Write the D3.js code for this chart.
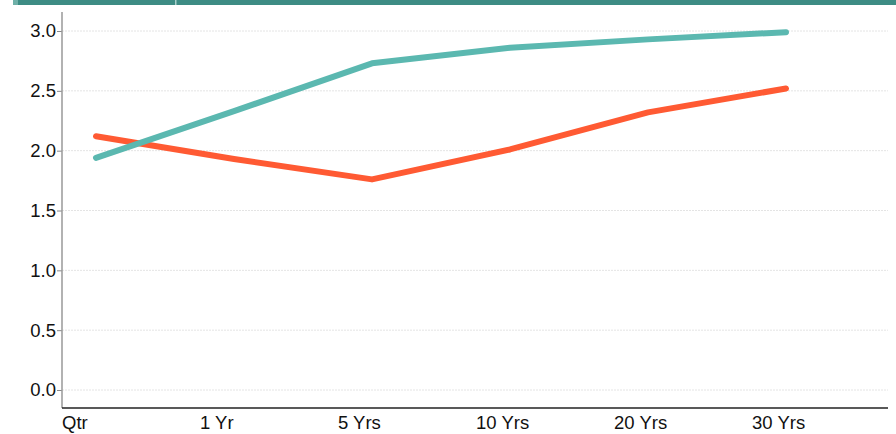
<!DOCTYPE html>
<html>
<head>
<meta charset="utf-8">
<script src="https://cdn.jsdelivr.net/npm/d3@7"></script>
<style>
  html, body { margin: 0; padding: 0; background: #fff; }
  svg text { font-family: "Liberation Sans", Arial, sans-serif; font-size: 18.5px; fill: #111; }
</style>
</head>
<body>
<div id="chart"></div>
<script>
const categories = ["Qtr", "1 Yr", "5 Yrs", "10 Yrs", "20 Yrs", "30 Yrs"];
const tealValues = [1.94, 2.33, 2.73, 2.86, 2.93, 2.99];
const orangeValues = [2.12, 1.93, 1.76, 2.01, 2.32, 2.52];
const yTicks = [0, 0.5, 1, 1.5, 2, 2.5, 3];

const width = 896, height = 434;
const svg = d3.select("#chart").append("svg")
  .attr("width", width).attr("height", height);

// top band
svg.append("rect").attr("x", 13).attr("y", 0).attr("width", width - 13).attr("height", 5)
  .attr("fill", "#3d8c84");
svg.append("rect").attr("x", 13).attr("y", 0).attr("width", 5).attr("height", 5)
  .attr("fill", "#6fb0a8");
svg.append("rect").attr("x", 175).attr("y", 0).attr("width", 1.5).attr("height", 5)
  .attr("fill", "#a9d0cb");

const x = d3.scalePoint().domain(categories).range([96, 786]);
const y = d3.scaleLinear().domain([0, 3]).range([390, 31]);

const axisLeft = 62, axisRight = 888, axisBottom = 408;

// gridlines
svg.append("g").selectAll("line").data(yTicks).enter().append("line")
  .attr("x1", axisLeft).attr("x2", axisRight)
  .attr("y1", (d) => y(d)).attr("y2", (d) => y(d))
  .attr("stroke", "#e4e4e4").attr("stroke-width", 1)
  .attr("stroke-dasharray", "2,1");

// y axis
const yAxis = svg.append("g").attr("transform", `translate(${axisLeft},0)`)
  .call(d3.axisLeft(y).tickValues(yTicks).tickFormat(d3.format(".1f")).tickSize(5).tickPadding(1));
yAxis.attr("font-size", null).attr("font-family", null);
yAxis.select(".domain").remove();
yAxis.selectAll(".tick line").attr("stroke", "#888");
yAxis.selectAll(".tick text").attr("fill", "#111");
svg.append("line").attr("x1", axisLeft).attr("x2", axisLeft)
  .attr("y1", 12).attr("y2", axisBottom).attr("stroke", "#999").attr("stroke-width", 1.5);

// x axis
svg.append("line").attr("x1", axisLeft).attr("x2", axisRight)
  .attr("y1", axisBottom).attr("y2", axisBottom).attr("stroke", "#222").attr("stroke-width", 1.5);
svg.append("g").selectAll("text").data(categories).enter().append("text")
  .attr("x", (d) => x(d) - 34).attr("y", 429)
  .attr("text-anchor", "start").text((d) => d);

const line = d3.line()
  .x((d, i) => x(categories[i]))
  .y((d) => y(d));

svg.append("path").datum(orangeValues).attr("d", line)
  .attr("fill", "none").attr("stroke", "#ff5a33").attr("stroke-width", 6)
  .attr("stroke-linecap", "round").attr("stroke-linejoin", "round");
svg.append("path").datum(tealValues).attr("d", line)
  .attr("fill", "none").attr("stroke", "#5bb8b0").attr("stroke-width", 6)
  .attr("stroke-linecap", "round").attr("stroke-linejoin", "round");
</script>
</body>
</html>
